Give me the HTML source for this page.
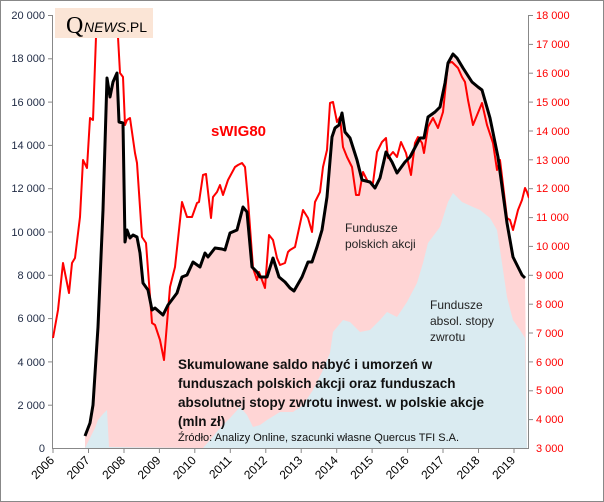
<!DOCTYPE html>
<html><head><meta charset="utf-8"><style>
body{margin:0;background:#fff}
svg{display:block;font-family:"Liberation Sans",sans-serif}
</style></head><body>
<svg width="604" height="502" viewBox="0 0 604 502" xmlns="http://www.w3.org/2000/svg">
<rect x="0.5" y="0.5" width="603" height="501" fill="#fff" stroke="#888"/>
<!-- pink area -->
<polygon fill="#ffd5d5" points="85,448 85,436 90,423 93,405 98,327 103,210 107,78 110,97 113,82 117,73 119,122 123,123 125,242 127,230 130,238 133,235 137,237 140,253 143,283 148,290 152,310 155,308 163,315 168,305 177,293 182,277 187,275 193,262 200,267 205,253 208,257 215,248 222,249 225,250 230,233 237,230 243,207 247,212 252,267 257,272 260,277 267,277 273,258 279,277 285,282 290,288 294,291 302,277 308,262 312,262 317,247 322,230 327,197 332,137 335,128 339,125 342,113 345,132 350,138 357,160 362,180 370,182 375,188 380,178 386,152 392,162 397,173 405,162 410,157 420,138 424,138 428,117 435,112 440,107 445,83 448,63 453,54 457,58 463,68 472,82 478,87 482,90 490,118 498,157 507,223 513,257 518,267 522,275 525,278 527,448"/>
<!-- blue area -->
<polygon fill="#daebf1" points="85,448 90,438 95,428 98,420 103,414 107,410 109,447 203,448 210,440 220,428 230,418 240,407 247,415 253,427 260,425 267,420 280,412 293,412 303,405 313,390 322,372 330,353 333,332 343,320 350,322 360,332 370,330 380,320 387,312 397,317 407,302 417,283 423,263 428,243 440,227 448,202 453,193 462,202 473,207 480,210 490,218 497,230 502,263 507,297 513,320 520,330 525,338 527,448"/>
<!-- axes -->
<g stroke="#888" stroke-width="1" fill="none">
<line x1="52.5" y1="15" x2="52.5" y2="448"/>
<line x1="528.5" y1="15" x2="528.5" y2="448"/>
<line x1="52" y1="448.5" x2="529" y2="448.5"/>
</g>
<g stroke="#888">
<line x1="48" y1="15.5" x2="52" y2="15.5"/><line x1="48" y1="58.8" x2="52" y2="58.8"/><line x1="48" y1="102.1" x2="52" y2="102.1"/><line x1="48" y1="145.4" x2="52" y2="145.4"/><line x1="48" y1="188.7" x2="52" y2="188.7"/><line x1="48" y1="232" x2="52" y2="232"/><line x1="48" y1="275.3" x2="52" y2="275.3"/><line x1="48" y1="318.6" x2="52" y2="318.6"/><line x1="48" y1="361.9" x2="52" y2="361.9"/><line x1="48" y1="405.2" x2="52" y2="405.2"/>
<line x1="529" y1="15.5" x2="533" y2="15.5"/><line x1="529" y1="44.4" x2="533" y2="44.4"/><line x1="529" y1="73.2" x2="533" y2="73.2"/><line x1="529" y1="102.1" x2="533" y2="102.1"/><line x1="529" y1="131" x2="533" y2="131"/><line x1="529" y1="159.8" x2="533" y2="159.8"/><line x1="529" y1="188.7" x2="533" y2="188.7"/><line x1="529" y1="217.6" x2="533" y2="217.6"/><line x1="529" y1="246.4" x2="533" y2="246.4"/><line x1="529" y1="275.3" x2="533" y2="275.3"/><line x1="529" y1="304.2" x2="533" y2="304.2"/><line x1="529" y1="333" x2="533" y2="333"/><line x1="529" y1="361.9" x2="533" y2="361.9"/><line x1="529" y1="390.8" x2="533" y2="390.8"/><line x1="529" y1="419.6" x2="533" y2="419.6"/>
<line x1="53" y1="448" x2="53" y2="453"/><line x1="88.5" y1="448" x2="88.5" y2="453"/><line x1="124" y1="448" x2="124" y2="453"/><line x1="159.4" y1="448" x2="159.4" y2="453"/><line x1="194.8" y1="448" x2="194.8" y2="453"/><line x1="230.3" y1="448" x2="230.3" y2="453"/><line x1="265.8" y1="448" x2="265.8" y2="453"/><line x1="301.2" y1="448" x2="301.2" y2="453"/><line x1="336.7" y1="448" x2="336.7" y2="453"/><line x1="372.1" y1="448" x2="372.1" y2="453"/><line x1="407.6" y1="448" x2="407.6" y2="453"/><line x1="443" y1="448" x2="443" y2="453"/><line x1="478.5" y1="448" x2="478.5" y2="453"/><line x1="514" y1="448" x2="514" y2="453"/>
</g>
<!-- left labels -->
<g font-size="11" fill="#1f2a44" text-anchor="end">
<text x="45" y="19">20 000</text><text x="45" y="62">18 000</text><text x="45" y="106">16 000</text><text x="45" y="149">14 000</text><text x="45" y="192">12 000</text><text x="45" y="236">10 000</text><text x="45" y="279">8 000</text><text x="45" y="322">6 000</text><text x="45" y="366">4 000</text><text x="45" y="409">2 000</text><text x="45" y="452">0</text>
</g>
<g font-size="11" fill="#ff0000">
<text x="536" y="19">18 000</text><text x="536" y="48">17 000</text><text x="536" y="77">16 000</text><text x="536" y="106">15 000</text><text x="536" y="135">14 000</text><text x="536" y="164">13 000</text><text x="536" y="192">12 000</text><text x="536" y="221">11 000</text><text x="536" y="250">10 000</text><text x="536" y="279">9 000</text><text x="536" y="308">8 000</text><text x="536" y="337">7 000</text><text x="536" y="366">6 000</text><text x="536" y="394">5 000</text><text x="536" y="423">4 000</text><text x="536" y="452">3 000</text>
</g>
<g font-size="12" fill="#000" text-anchor="end">
<text transform="translate(55,461) rotate(-45)">2006</text><text transform="translate(90.5,461) rotate(-45)">2007</text><text transform="translate(126,461) rotate(-45)">2008</text><text transform="translate(161.4,461) rotate(-45)">2009</text><text transform="translate(196.8,461) rotate(-45)">2010</text><text transform="translate(232.3,461) rotate(-45)">2011</text><text transform="translate(267.8,461) rotate(-45)">2012</text><text transform="translate(303.2,461) rotate(-45)">2013</text><text transform="translate(338.7,461) rotate(-45)">2014</text><text transform="translate(374.1,461) rotate(-45)">2015</text><text transform="translate(409.6,461) rotate(-45)">2016</text><text transform="translate(445,461) rotate(-45)">2017</text><text transform="translate(480.5,461) rotate(-45)">2018</text><text transform="translate(516,461) rotate(-45)">2019</text>
</g>
<!-- red line -->
<svg x="52" y="15" width="477" height="433" viewBox="52 15 477 433" overflow="hidden">
<polyline fill="none" stroke="#ff0000" stroke-width="2" stroke-linejoin="round" points="53,338 58,310 63,263 69,293 72,263 75,258 80,217 83,160 87,168 90,118 93,120 96,37 99,-20 115,-20 118,37 120,73 123,77 125,125 127,120 130,118 135,153 137,163 142,237 146,243 152,323 155,325 160,340 164,360 170,287 175,267 182,202 187,217 192,217 197,203 199,202 203,175 206,174 211,218 213,197 217,192 220,185 223,195 228,180 235,167 238,165 242,163 245,167 248,200 253,268 257,280 259,272 265,288 269,235 273,240 277,258 280,265 285,263 288,252 290,250 295,247 303,210 308,218 312,232 315,202 320,192 323,167 327,150 330,103 333,102 337,122 340,117 343,147 347,157 352,167 356,195 359,195 363,172 368,182 373,183 377,152 382,142 386,138 388,158 393,152 397,157 401,142 406,153 411,175 415,143 418,137 422,143 424,153 428,127 433,118 438,128 443,112 448,63 452,62 458,68 462,77 465,82 468,100 473,125 482,103 487,125 493,143 497,170 500,160 507,218 510,220 513,230 518,210 522,200 525,188 527,192 529,198"/>
</svg>
<!-- black line -->
<polyline fill="none" stroke="#000" stroke-width="3" stroke-linejoin="round" points="85,436 90,423 93,405 98,327 103,210 107,78 110,97 113,82 117,73 119,122 123,123 125,242 127,230 130,238 133,235 137,237 140,253 143,283 148,290 152,310 155,308 163,315 168,305 177,293 182,277 187,275 193,262 200,267 205,253 208,257 215,248 222,249 225,250 230,233 237,230 243,207 247,212 252,267 257,272 260,277 267,277 273,258 279,277 285,282 290,288 294,291 302,277 308,262 312,262 317,247 322,230 327,197 332,137 335,128 339,125 342,113 345,132 350,138 357,160 362,180 370,182 375,188 380,178 386,152 392,162 397,173 405,162 410,157 420,138 424,138 428,117 435,112 440,107 445,83 448,63 453,54 457,58 463,68 472,82 478,87 482,90 490,118 498,157 507,223 513,257 518,267 522,275 525,278"/>
<!-- logo -->
<rect x="55" y="8" width="98" height="30" fill="#fbe5d6"/>
<text x="66" y="33" font-family="Liberation Serif,serif" font-size="24" fill="#000">Q</text>
<text x="84" y="32" font-size="14" fill="#000"><tspan font-style="italic">NEWS</tspan>.PL</text>
<!-- annotations -->
<text x="211" y="136" font-size="15" font-weight="bold" fill="#ff0000">sWIG80</text>
<g font-size="12" fill="#222">
<text x="345" y="232">Fundusze</text><text x="345" y="248">polskich akcji</text>
<text x="430" y="309">Fundusze</text><text x="430" y="325">absol. stopy</text><text x="430" y="341">zwrotu</text>
</g>
<g font-size="13.5" font-weight="bold" fill="#111">
<text x="178" y="369">Skumulowane saldo nabyć i umorzeń w</text>
<text x="178" y="388">funduszach polskich akcji oraz funduszach</text>
<text x="178" y="407">absolutnej stopy zwrotu inwest. w polskie akcje</text>
<text x="178" y="426">(mln zł)</text>
</g>
<text x="178" y="441" font-size="11" fill="#111">Źródło:  Analizy Online, szacunki własne Quercus TFI S.A.</text>
</svg>
</body></html>
